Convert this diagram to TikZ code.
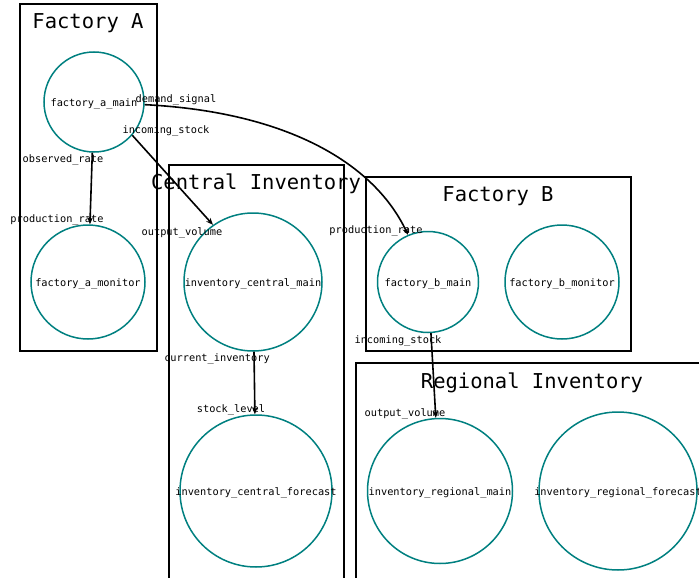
\documentclass[tikz,border=0pt]{standalone}
\usepackage{fontspec}
\setmonofont{DejaVu Sans Mono}
\usetikzlibrary{arrows.meta}
\definecolor{tealc}{RGB}{0,128,128}
\tikzset{
  grp/.style={draw=black, line width=1.5pt},
  grptitle/.style={font=\ttfamily\fontsize{20.5}{24}\selectfont, inner sep=0pt, yshift=-2pt},
  lbl/.style={font=\ttfamily\fontsize{10.3}{12}\selectfont, inner sep=0pt, yshift=-2pt},
  proc/.style={circle, draw=tealc, line width=1.5pt, inner sep=0pt,
    label={[lbl]center:#1}},
  flow/.style={draw=black, line width=1.6pt, -{Stealth[length=7pt,width=5.5pt]}}
}
\begin{document}
\begin{tikzpicture}[x=1pt,y=-1pt]
\useasboundingbox (0,0) rectangle (699,578);
\fill[white] (0,0) rectangle (699,578);
% group boxes
\draw[grp] (20,4) rectangle (157,351);
\draw[grp] (169,165) rectangle (344,600);
\draw[grp] (366,177) rectangle (631,351);
\draw[grp] (356,363) rectangle (720,600);
\node[grptitle] (tA) at (88,21) {Factory A};
\node[grptitle] (tC) at (256,182) {Central Inventory};
\node[grptitle] (tB) at (498,194) {Factory B};
\node[grptitle] (tR) at (532,381) {Regional Inventory};
% processes
\node[proc={factory\_a\_main}, minimum size=100pt] (fam) at (94,102) {};
\node[proc={factory\_a\_monitor}, minimum size=114pt] (famon) at (88,282) {};
\node[proc={inventory\_central\_main}, minimum size=138pt] (icm) at (253,282) {};
\node[proc={inventory\_central\_forecast}, minimum size=152pt] (icf) at (256,491) {};
\node[proc={factory\_b\_main}, minimum size=101pt] (fbm) at (428,282) {};
\node[proc={factory\_b\_monitor}, minimum size=114pt] (fbmon) at (562,282) {};
\node[proc={inventory\_regional\_main}, minimum size=145pt] (irm) at (440,491) {};
\node[proc={inventory\_regional\_forecast}, minimum size=158pt] (irf) at (618,491) {};
% flows
\draw[flow] (fam) -- (famon);
\draw[flow] (fam.-41) -- (icm.125);
\draw[flow] (fam.-3) .. controls (290,112) and (375,165) .. (fbm.113);
\draw[flow] (icm) -- (icf);
\draw[flow] (fbm) -- (irm);
% labels
\node[lbl] (l1) at (63,158) {observed\_rate};
\node[lbl] (l2) at (57,218) {production\_rate};
\node[lbl] (l3) at (166,129) {incoming\_stock};
\node[lbl] (l4) at (182,231) {output\_volume};
\node[lbl] (l5) at (176,98) {demand\_signal};
\node[lbl] (l6) at (376,229) {production\_rate};
\node[lbl] (l7) at (217,357) {current\_inventory};
\node[lbl] (l8) at (231,408) {stock\_level};
\node[lbl] (l9) at (398,339) {incoming\_stock};
\node[lbl] (l10) at (405,412) {output\_volume};
\end{tikzpicture}
\end{document}
